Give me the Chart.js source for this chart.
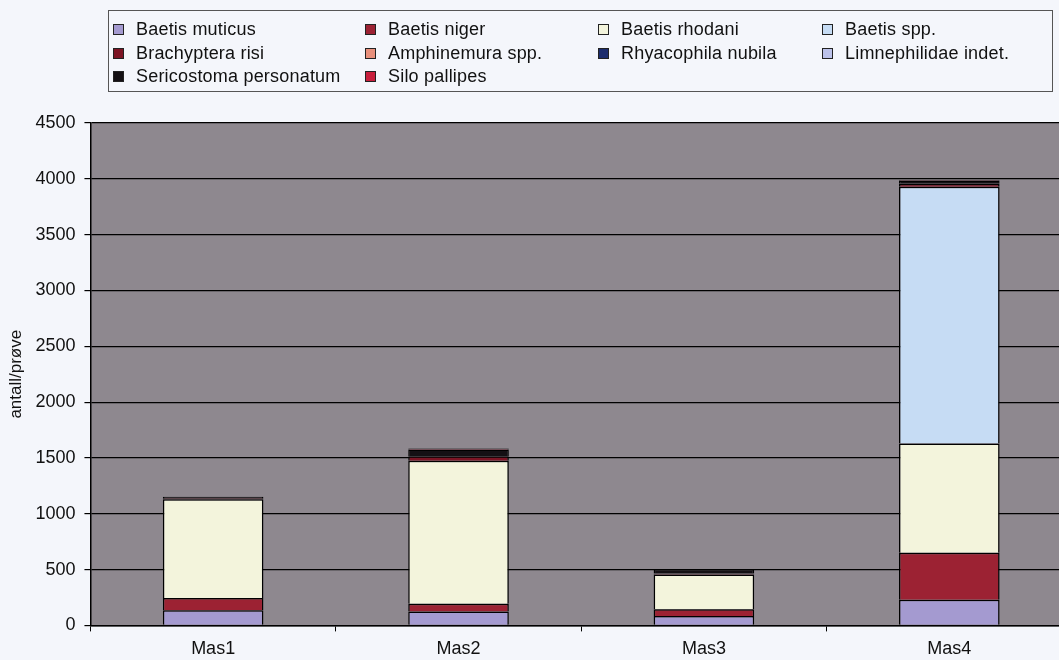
<!DOCTYPE html>
<html>
<head>
<meta charset="utf-8">
<script src="https://cdn.jsdelivr.net/npm/chart.js@4.4.1/dist/chart.umd.min.js"></script>
<style>
	html, body { margin: 0; padding: 0; background: #f4f6fb; overflow: hidden; }
	#wrap { position: relative; width: 1059px; height: 660px; overflow: hidden; }
	#box { position: absolute; left: 0; top: 0; width: 1072px; height: 660px; }
	#legend {
		position: absolute; left: 108px; top: 10px; width: 945px; height: 82px;
		border: 1.5px solid #555; box-sizing: border-box;
		font: 18px "Liberation Sans", Arial, sans-serif; color: #111;
		display: grid; grid-template-columns: 252px 233px 224px auto;
		grid-auto-rows: 23.5px; padding: 7px 0 0 4px;
	}
	#legend span { display: flex; align-items: center; white-space: nowrap; letter-spacing: 0.2px; }
	#legend i { display: inline-block; width: 9px; height: 9px; border: 1.5px solid #222; margin-right: 12px; }
</style>
</head>
<body>
<div id="wrap">
	<div id="box"><canvas id="chart"></canvas></div>
	<div id="legend"></div>
</div>
<script>
const sites = ["Mas1", "Mas2", "Mas3", "Mas4"];

const baetisMuticus = [135, 125, 85, 230];
const baetisNiger = [110, 70, 60, 420];
const baetisRhodani = [885, 1280, 310, 980];
const baetisSpp = [0, 0, 0, 2300];
const brachypteraRisi = [10, 40, 10, 25];
const amphinemuraSpp = [0, 0, 0, 0];
const rhyacophilaNubila = [0, 0, 0, 0];
const limnephilidae = [0, 0, 0, 0];
const sericostoma = [12, 60, 40, 30];
const siloPallipes = [0, 10, 0, 5];

const series = [
	["Baetis muticus", baetisMuticus, "#a49ad0"],
	["Baetis niger", baetisNiger, "#9c2233"],
	["Baetis rhodani", baetisRhodani, "#f3f4dc"],
	["Baetis spp.", baetisSpp, "#c6dcf4"],
	["Brachyptera risi", brachypteraRisi, "#7c1424"],
	["Amphinemura spp.", amphinemuraSpp, "#e8907c"],
	["Rhyacophila nubila", rhyacophilaNubila, "#1c2c6c"],
	["Limnephilidae indet.", limnephilidae, "#bcc2ea"],
	["Sericostoma personatum", sericostoma, "#141014"],
	["Silo pallipes", siloPallipes, "#c81e3c"],
];

const font = "'Liberation Sans', Arial, sans-serif";

const plotBg = {
	id: "plotBg",
	beforeDraw(chart) {
		const { ctx, chartArea: a } = chart;
		ctx.save();
		ctx.fillStyle = "#8e888f";
		ctx.fillRect(a.left, a.top, a.right - a.left, a.bottom - a.top);
		ctx.restore();
	},
};

const chart = new Chart(document.getElementById("chart"), {
	type: "bar",
	plugins: [plotBg],
	data: {
		labels: sites,
		datasets: series.map(([label, data, color]) => ({
			label,
			data,
			backgroundColor: color,
			borderColor: "#000",
			borderWidth: 1.5,
			categoryPercentage: 1,
			barPercentage: 0.41,
		})),
	},
	options: {
		responsive: true,
		maintainAspectRatio: false,
		animation: false,
		layout: { padding: { top: 123, left: 6, right: 0, bottom: -7 } },
		plugins: {
			legend: { display: false },
			tooltip: { enabled: false },
		},
		scales: {
			x: {
				stacked: true,
				border: { color: "#000", width: 1.5 },
				grid: { drawOnChartArea: false, color: "#000", tickLength: 6 },
				ticks: { color: "#111", font: { family: font, size: 18 }, padding: 7 },
			},
			y: {
				stacked: true,
				min: 0,
				max: 4500,
				border: { color: "#000", width: 1.5 },
				grid: { color: "#000", lineWidth: 1.2, tickLength: 6 },
				ticks: {
					stepSize: 500,
					color: "#111",
					font: { family: font, size: 18 },
					padding: 9,
					callback: v => String(v),
				},
				title: { display: true, text: "antall/prøve", color: "#111", font: { family: font, size: 17 }, padding: 0 },
			},
		},
	},
});

// legend laid out in four columns, like the original
const legend = document.getElementById("legend");
chart.data.datasets.forEach(ds => {
	const item = document.createElement("span");
	const box = document.createElement("i");
	box.style.background = ds.backgroundColor;
	item.appendChild(box);
	item.appendChild(document.createTextNode(ds.label));
	legend.appendChild(item);
});
</script>
</body>
</html>
